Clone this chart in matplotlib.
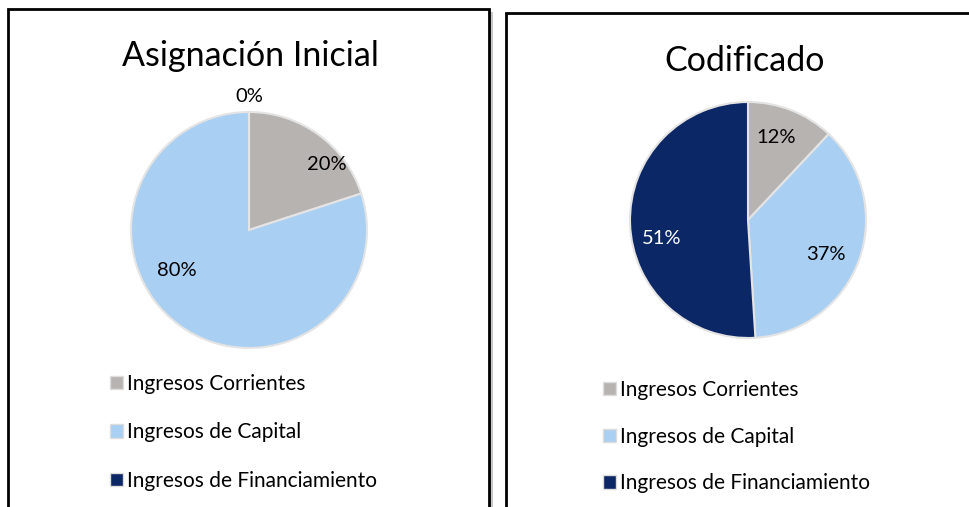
import matplotlib
matplotlib.use("Agg")
import matplotlib.pyplot as plt
from matplotlib.patches import Rectangle, Patch
import numpy as np

plt.rcParams['font.family'] = ['Lato', 'DejaVu Sans']

categories = ["Ingresos Corrientes", "Ingresos de Capital", "Ingresos de Financiamiento"]
titles = ["Asignación Inicial", "Codificado"]
inicial = [20, 80, 0]
codificado = [12, 37, 51]
label_text_inicial = ["20%", "80%", "0%"]
label_text_codificado = ["12%", "37%", "51%"]

colors = ["#b7b3b0", "#a9cff2", "#0c2766"]
label_colors_inicial = ["black", "black", "black"]
label_colors_codificado = ["black", "black", "white"]
# label placement (angle deg, radius) style
pos_inicial = [(40, 0.86), (209, 0.70), (90, 1.13)]
pos_codificado = [(71, 0.74), (-24, 0.72), (192, 0.75)]

W, H = 969, 507
fig = plt.figure(figsize=(W / 100, H / 100), dpi=100)

def fx(x):
    return x / W

def fy(y):
    return 1 - y / H

# panel borders
fig.patches.append(Rectangle((fx(490), fy(520)), fx(3), fy(12) - fy(520), transform=fig.transFigure,
                             facecolor="#c8c8c8", edgecolor="none"))
fig.patches.append(Rectangle((fx(8), fy(520)), fx(489) - fx(8), fy(9) - fy(520), transform=fig.transFigure,
                             facecolor="none", edgecolor="black", linewidth=2))
fig.patches.append(Rectangle((fx(506), fy(520)), fx(1000) - fx(506), fy(13) - fy(520), transform=fig.transFigure,
                             facecolor="none", edgecolor="black", linewidth=2))

def draw_pie(cx, cy, r, values, texts, lcolors, positions):
    ax = fig.add_axes([fx(cx - r), fy(cy + r), fx(2 * r), fy(cy - r) - fy(cy + r)])
    wedges, _ = ax.pie(values, colors=colors, startangle=90, counterclock=False,
                       wedgeprops=dict(edgecolor="#e4e4e4", linewidth=1.5))
    ax.set_xlim(-1, 1)
    ax.set_ylim(-1, 1)
    ax.set_aspect("equal")
    ax.axis("off")
    for t, c, (ang, rad) in zip(texts, lcolors, positions):
        a = np.deg2rad(ang)
        ax.text(rad * np.cos(a), rad * np.sin(a), t, ha="center", va="center",
                fontsize=14.5, color=c, clip_on=False)
    return ax

draw_pie(249, 230, 118, inicial, label_text_inicial, label_colors_inicial, pos_inicial)
draw_pie(748, 220, 118, codificado, label_text_codificado, label_colors_codificado, pos_codificado)

fig.text(fx(250), fy(56), titles[0], ha="center", va="center", fontsize=24.5)
fig.text(fx(745), fy(61), titles[1], ha="center", va="center", fontsize=24.5)

handles = [Patch(facecolor=c, edgecolor="#dddddd") for c in colors]
for x0, y0, ls in [(110, 374, 1.36), (603, 380, 1.28)]:
    fig.legend(handles, categories, loc="upper left", bbox_to_anchor=(fx(x0), fy(y0)),
               frameon=False, fontsize=15, handlelength=0.6, handleheight=0.6,
               handletextpad=0.2, labelspacing=ls, borderaxespad=0, borderpad=0)

fig.savefig("out.png", dpi=100)
